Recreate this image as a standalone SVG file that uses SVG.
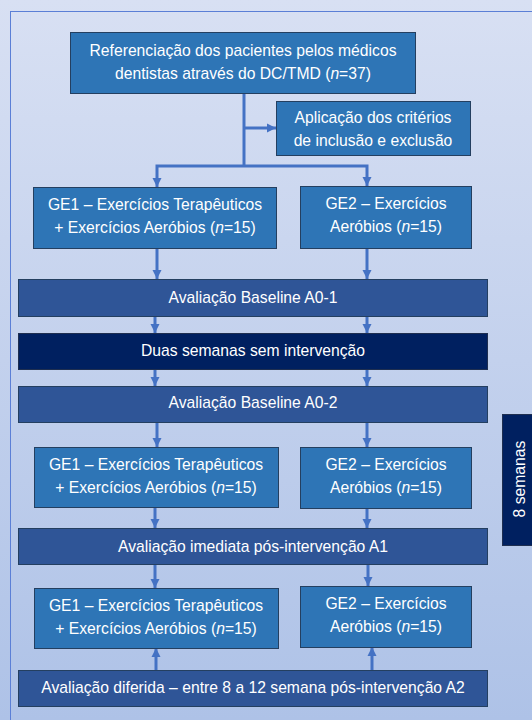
<svg xmlns="http://www.w3.org/2000/svg" width="532" height="720" viewBox="0 0 532 720">
<defs>
<linearGradient id="bg" x1="0" y1="0" x2="0" y2="1">
<stop offset="0" stop-color="#D8E0F3"/>
<stop offset="1" stop-color="#AEC2E7"/>
</linearGradient>
<marker id="ah" viewBox="0 0 10 10" refX="10" refY="5" markerWidth="9" markerHeight="11" markerUnits="userSpaceOnUse" orient="auto">
<path d="M0,0 L10,5 L0,10 z" fill="#4472C4"/>
</marker>
<style>
.t{font-family:"Liberation Sans",Arial,sans-serif;font-size:15.7px;fill:#FFFFFF;text-anchor:middle}
.g{fill:#2E75B6;stroke:#243F60;stroke-width:1}
.a{fill:#2F5597;stroke:#243F60;stroke-width:1}
.d{fill:#002060;stroke:#1F2F50;stroke-width:1}
.c{fill:none;stroke:#4472C4;stroke-width:3}
.i{font-style:italic}
</style>
</defs>
<rect x="0" y="0" width="532" height="720" fill="url(#bg)"/>
<rect x="10.5" y="11.5" width="600" height="800" fill="none" stroke="#5B7FD6" stroke-width="1"/>

<g id="connectors">
<path class="c" d="M244,93 V166"/>
<path class="c" d="M244,128 H276" marker-end="url(#ah)"/>
<path class="c" d="M244,166 H157 V187" marker-end="url(#ah)"/>
<path class="c" d="M244,166 H367 V186" marker-end="url(#ah)"/>
<path class="c" d="M157,248 V279" marker-end="url(#ah)"/>
<path class="c" d="M367,248 V279" marker-end="url(#ah)"/>
<path class="c" d="M155,316 V333" marker-end="url(#ah)"/>
<path class="c" d="M367,316 V333" marker-end="url(#ah)"/>
<path class="c" d="M155,369 V386" marker-end="url(#ah)"/>
<path class="c" d="M367,369 V386" marker-end="url(#ah)"/>
<path class="c" d="M157,422 V447" marker-end="url(#ah)"/>
<path class="c" d="M367,422 V447" marker-end="url(#ah)"/>
<path class="c" d="M155,507 V528" marker-end="url(#ah)"/>
<path class="c" d="M367,508 V528" marker-end="url(#ah)"/>
<path class="c" d="M155,564 V588" marker-end="url(#ah)"/>
<path class="c" d="M368,564 V586" marker-end="url(#ah)"/>
<path class="c" d="M156,670 V648" marker-end="url(#ah)"/>
<path class="c" d="M372,670 V647" marker-end="url(#ah)"/>
</g>

<g id="referenciacao">
<rect class="g" x="70.5" y="32.5" width="345" height="61"/>
<text class="t" x="243" y="56">Referenciação dos pacientes pelos médicos</text>
<text class="t" x="243" y="79">dentistas através do DC/TMD (<tspan class="i">n</tspan>=37)</text>
</g>

<g id="criterios">
<rect class="g" x="276.5" y="101.5" width="194" height="54"/>
<text class="t" x="373" y="123">Aplicação dos critérios</text>
<text class="t" x="373" y="146">de inclusão e exclusão</text>
</g>

<g id="ge1-a">
<rect class="g" x="33.5" y="187.5" width="243" height="61"/>
<text class="t" x="155" y="210">GE1 – Exercícios Terapêuticos</text>
<text class="t" x="155" y="233">+ Exercícios Aeróbios (<tspan class="i">n</tspan>=15)</text>
</g>

<g id="ge2-a">
<rect class="g" x="300.5" y="186.5" width="171" height="62"/>
<text class="t" x="386" y="209">GE2 – Exercícios</text>
<text class="t" x="386" y="232">Aeróbios (<tspan class="i">n</tspan>=15)</text>
</g>

<g id="baseline-a01">
<rect class="a" x="18.5" y="279.5" width="469" height="37"/>
<text class="t" x="253" y="303">Avaliação Baseline A0-1</text>
</g>

<g id="duas-semanas">
<rect class="d" x="18.5" y="333.5" width="469" height="36"/>
<text class="t" x="253" y="356">Duas semanas sem intervenção</text>
</g>

<g id="baseline-a02">
<rect class="a" x="18.5" y="386.5" width="469" height="36"/>
<text class="t" x="253" y="408">Avaliação Baseline A0-2</text>
</g>

<g id="ge1-b">
<rect class="g" x="34.5" y="447.5" width="244" height="60"/>
<text class="t" x="156" y="470">GE1 – Exercícios Terapêuticos</text>
<text class="t" x="156" y="493">+ Exercícios Aeróbios (<tspan class="i">n</tspan>=15)</text>
</g>

<g id="ge2-b">
<rect class="g" x="300.5" y="447.5" width="171" height="61"/>
<text class="t" x="386" y="470">GE2 – Exercícios</text>
<text class="t" x="386" y="493">Aeróbios (<tspan class="i">n</tspan>=15)</text>
</g>

<g id="avaliacao-a1">
<rect class="a" x="18.5" y="528.5" width="469" height="36"/>
<text class="t" x="253" y="552">Avaliação imediata pós-intervenção A1</text>
</g>

<g id="ge1-c">
<rect class="g" x="34.5" y="588.5" width="244" height="60"/>
<text class="t" x="156" y="611">GE1 – Exercícios Terapêuticos</text>
<text class="t" x="156" y="634">+ Exercícios Aeróbios (<tspan class="i">n</tspan>=15)</text>
</g>

<g id="ge2-c">
<rect class="g" x="300.5" y="586.5" width="171" height="61"/>
<text class="t" x="386" y="609">GE2 – Exercícios</text>
<text class="t" x="386" y="632">Aeróbios (<tspan class="i">n</tspan>=15)</text>
</g>

<g id="avaliacao-a2">
<rect class="a" x="18.5" y="670.5" width="469" height="36"/>
<text class="t" x="253" y="693">Avaliação diferida – entre 8 a 12 semana pós-intervenção A2</text>
</g>

<g id="oito-semanas">
<rect class="d" x="502.5" y="414.5" width="40" height="131"/>
<text class="t" x="0" y="0" transform="translate(525,479) rotate(-90)">8 semanas</text>
</g>
</svg>
